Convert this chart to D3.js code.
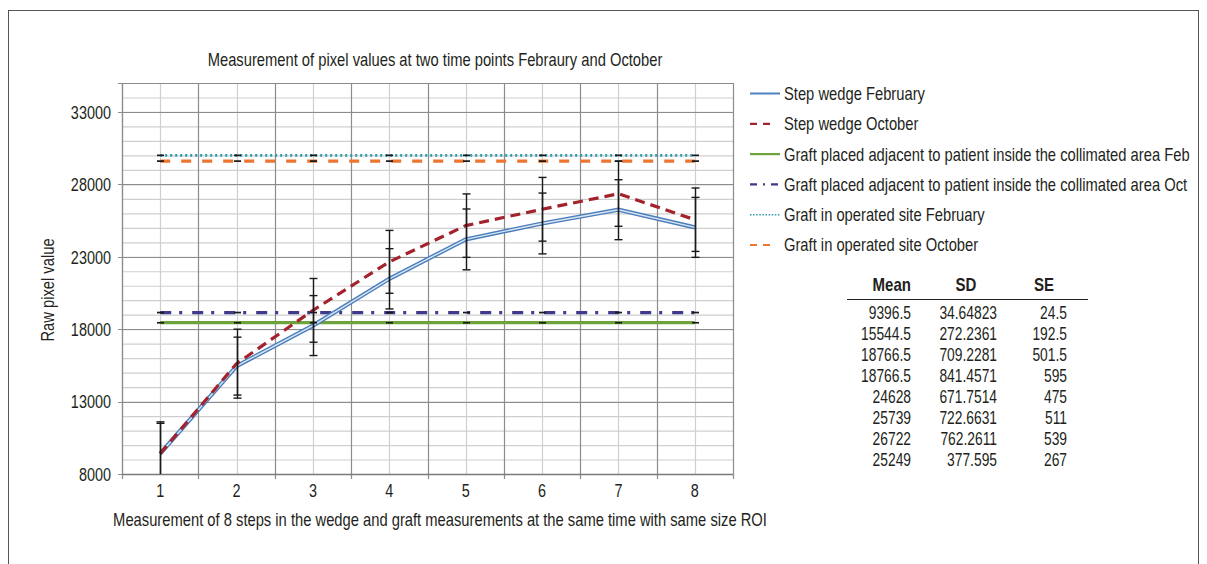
<!DOCTYPE html>
<html><head><meta charset="utf-8">
<script src="https://cdn.jsdelivr.net/npm/d3@7"></script>
<style>
body{margin:0;background:#fff;}
svg text{font-family:"Liberation Sans",Arial,sans-serif;fill:#231f20;}
</style></head>
<body>
<svg id="c" width="1207" height="564"></svg>
<script>
// ---- data ----
const steps = [1,2,3,4,5,6,7,8];
const yTicks = [8000,13000,18000,23000,28000,33000];
const wedgeFeb = [9400,15450,18250,21480,24200,25300,26250,25030];
const wedgeFebErr = [2200,2000,2070,2080,2100,2100,2070,2070];
const wedgeOct = [9400,15620,19300,22650,25150,26280,27350,25560];
const wedgeOctErr = [2100,2380,2200,2170,2190,2200,2245,2190];
const graftAdjFeb = [18450,18450,18450,18450,18450,18450,18450,18450];
const graftAdjOct = [19150,19150,19150,19150,19150,19150,19150,19150];
const graftSiteFeb = [30000,30000,30000,30000,30000,30000,30000,30000];
const graftSiteOct = [29600,29600,29600,29600,29600,29600,29600,29600];
const smallErr = [0,0,0,0,0,0,0,0];
const legendLabels = ["Step wedge February","Step wedge October",
  "Graft placed adjacent to patient inside the collimated area Feb",
  "Graft placed adjacent to patient inside the collimated area Oct",
  "Graft in operated site February","Graft in operated site October"];
const tableHeaders = ["Mean","SD","SE"];
const tableMean = ["9396.5","15544.5","18766.5","18766.5","24628","25739","26722","25249"];
const tableSD = ["34.64823","272.2361","709.2281","841.4571","671.7514","722.6631","762.2611","377.595"];
const tableSE = ["24.5","192.5","501.5","595","475","511","539","267"];

const svg = d3.select("#c");

// text helper: horizontally condensed text placed at (x,y)
function txt(parent, x, y, s, size, anchor, k, opts={}){
  const t = parent.append("text")
    .attr("transform", `translate(${x},${y})${opts.rot?` rotate(${opts.rot})`:""} scale(${k},1)`)
    .attr("dy","0.36em").attr("text-anchor",anchor||"start")
    .attr("font-size",size).text(s);
  if (opts.bold) t.attr("font-weight","bold");
  return t;
}

// outer frame
svg.append("rect").attr("x",8.5).attr("y",10.5).attr("width",1190).attr("height",600)
  .attr("fill","none").attr("stroke","#555").attr("stroke-width",1);

const L=122, R=733, T=83, B=474;
const x = d3.scaleBand().domain(steps).range([L,R]).paddingInner(0).paddingOuter(0);
const cx = d => x(d)+x.bandwidth()/2;
const y = d3.scaleLinear().domain([8000,35000]).range([B,T]);

const g = svg.append("g");
g.selectAll(".hmin").data(d3.range(8000,35001,1000)).join("line")
  .attr("x1",L).attr("x2",R).attr("y1",d=>y(d)+0.5).attr("y2",d=>y(d)+0.5)
  .attr("stroke","#cfcfcf").attr("stroke-width",1.2);
g.selectAll(".vc").data(steps).join("line")
  .attr("x1",d=>Math.round(cx(d))+0.5).attr("x2",d=>Math.round(cx(d))+0.5).attr("y1",T).attr("y2",B)
  .attr("stroke","#cfcfcf").attr("stroke-width",1.2);
const bounds = steps.map(d=>x(d)).concat([R]);
g.selectAll(".vb").data(bounds).join("line")
  .attr("x1",d=>Math.round(d)+0.5).attr("x2",d=>Math.round(d)+0.5).attr("y1",T).attr("y2",B+5)
  .attr("stroke","#8c8c8c").attr("stroke-width",1.2);
g.selectAll(".hmaj").data(yTicks.concat([35000])).join("line")
  .attr("x1",L-4).attr("x2",R).attr("y1",d=>Math.round(y(d))+0.5).attr("y2",d=>Math.round(y(d))+0.5)
  .attr("stroke","#8c8c8c").attr("stroke-width",1.2);
g.append("line").attr("x1",L+0.5).attr("x2",L+0.5).attr("y1",T).attr("y2",B).attr("stroke","#8c8c8c").attr("stroke-width",1.2);
g.append("line").attr("x1",L).attr("x2",R).attr("y1",B+0.5).attr("y2",B+0.5).attr("stroke","#7a7a7a").attr("stroke-width",1.3);

// tick labels
yTicks.forEach(d=>txt(g,111,y(d),d,19,"end",0.76));
steps.forEach(d=>txt(g,cx(d),490,d,19,"middle",0.76));

// titles
txt(svg,435,60,"Measurement of pixel values at two time points Febraury and October",18,"middle",0.82);
txt(svg,440,520,"Measurement of 8 steps in the wedge and graft measurements at the same time with same size ROI",18,"middle",0.82);
txt(svg,48,290,"Raw pixel value",18,"middle",0.82,{rot:-90});

svg.append("clipPath").attr("id","pc").append("rect").attr("x",L).attr("y",T-10).attr("width",R-L+10).attr("height",B-T+10);
const plot = svg.append("g").attr("clip-path","url(#pc)");

function series(vals){ return steps.map((s,i)=>({s, v:vals[i]})); }
const line = d3.line().x(d=>cx(d.s)).y(d=>y(d.v));

const styles = [
  {vals:graftAdjFeb, color:"#6ca33a", w:3.2, dash:null},
  {vals:graftAdjOct, color:"#3e3a8c", w:3.2, dash:"11,8,3,10"},
  {vals:graftSiteFeb, color:"#2a9cab", w:2.6, dash:"2,3"},
  {vals:graftSiteOct, color:"#ec7530", w:3.2, dash:"10,11"}
];
styles.forEach(st=>{
  plot.append("path").datum(series(st.vals)).attr("d",line).attr("fill","none")
    .attr("stroke",st.color).attr("stroke-width",st.w).attr("stroke-dasharray",st.dash);
});
plot.append("path").datum(series(wedgeFeb)).attr("d",line).attr("fill","none")
  .attr("stroke","#4a7dba").attr("stroke-width",4.2);
plot.append("path").datum(series(wedgeFeb)).attr("d",line).attr("fill","none")
  .attr("stroke","#d8e6f4").attr("stroke-width",1.4);
plot.append("path").datum(series(wedgeOct)).attr("d",line).attr("fill","none")
  .attr("stroke","#a3232c").attr("stroke-width",3.2).attr("stroke-dasharray","10,6");

function errBars(vals, errs, capW){
  const gg = plot.append("g").attr("stroke","#1a1a1a").attr("stroke-width",1.4);
  steps.forEach((s,i)=>{
    const X = Math.round(cx(s))+0.5, top = y(vals[i]+errs[i]), bot = y(vals[i]-errs[i]);
    if (errs[i]>0) gg.append("line").attr("x1",X).attr("x2",X).attr("y1",top).attr("y2",bot);
    gg.append("line").attr("x1",X-capW).attr("x2",X+capW).attr("y1",top).attr("y2",top);
    gg.append("line").attr("x1",X-capW).attr("x2",X+capW).attr("y1",bot).attr("y2",bot);
  });
}
errBars(wedgeFeb, wedgeFebErr, 4);
errBars(wedgeOct, wedgeOctErr, 4);
[graftAdjFeb, graftAdjOct, graftSiteFeb, graftSiteOct].forEach(v=>errBars(v, smallErr, 3.5));

// legend
const legStyles = [
  {color:"#4f81bd", w:2, dash:null, len:30},
  {color:"#a3232c", w:2.2, dash:"7,6", len:22},
  {color:"#6ca33a", w:2.2, dash:null, len:30},
  {color:"#3e3a8c", w:2.2, dash:"7,6,2,6", len:33},
  {color:"#2a9cab", w:1.6, dash:"1.5,1.6", len:31},
  {color:"#ec7530", w:2.2, dash:"7,6", len:22}
];
const leg = svg.append("g");
legendLabels.forEach((lab,i)=>{
  const yy = 93.5 + i*30.3;
  const st = legStyles[i];
  leg.append("line").attr("x1",750).attr("x2",750+st.len).attr("y1",yy).attr("y2",yy)
    .attr("stroke",st.color).attr("stroke-width",st.w).attr("stroke-dasharray",st.dash);
  txt(leg,784,yy,lab,18,"start",0.82);
});

// table
const tb = svg.append("g");
txt(tb,911,285,tableHeaders[0],17.5,"end",0.86,{bold:true});
txt(tb,966,285,tableHeaders[1],17.5,"middle",0.86,{bold:true});
txt(tb,1044,285,tableHeaders[2],17.5,"middle",0.86,{bold:true});
tb.append("line").attr("x1",847).attr("x2",1088).attr("y1",299.5).attr("y2",299.5).attr("stroke","#231f20").attr("stroke-width",1);
[[tableMean,911],[tableSD,997],[tableSE,1067]].forEach(([col,xr])=>{
  col.forEach((t,i)=> txt(tb,xr,313+21*i,t,17.5,"end",0.79));
});
</script>
</body></html>
